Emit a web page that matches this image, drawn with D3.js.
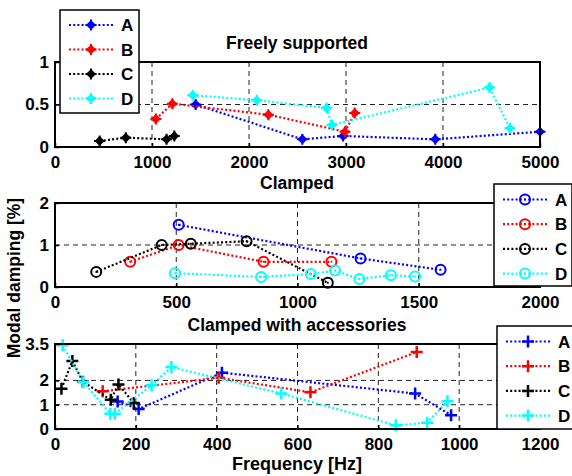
<!DOCTYPE html>
<html>
<head>
<meta charset="utf-8">
<script src="https://cdn.jsdelivr.net/npm/d3@7"></script>
<style>
  body { margin: 0; background: #fff; }
  text { font-family: "Liberation Sans", Arial, sans-serif; font-weight: bold; }
</style>
</head>
<body>
<div id="chart"></div>
<script>
// series data
var seriesNames = ["A", "B", "C", "D"];
var colors = ["#0000ff", "#ff0000", "#000000", "#00ffff"];

var freeAx = [1450, 2550, 2970, 3920, 5000],  freeAy = [0.50, 0.09, 0.13, 0.09, 0.18];
var freeBx = [1040, 1210, 2200, 2990, 3090],  freeBy = [0.33, 0.51, 0.38, 0.18, 0.40];
var freeCx = [460, 730, 1150, 1230],          freeCy = [0.07, 0.11, 0.09, 0.13];
var freeDx = [1420, 2080, 2800, 2855, 4480, 4690], freeDy = [0.61, 0.55, 0.46, 0.26, 0.70, 0.22];

var clampAx = [510, 1260, 1590],              clampAy = [1.48, 0.68, 0.41];
var clampBx = [310, 510, 860, 1140],          clampBy = [0.60, 1.00, 0.60, 0.60];
var clampCx = [170, 440, 560, 790, 1125],     clampCy = [0.36, 1.00, 1.03, 1.09, 0.10];
var clampDx = [495, 850, 1055, 1155, 1255, 1385, 1485], clampDy = [0.33, 0.24, 0.31, 0.39, 0.19, 0.28, 0.25];

var accAx = [155, 207, 413, 891, 980],        accAy = [1.13, 0.82, 2.32, 1.46, 0.57];
var accBx = [118, 405, 632, 895],             accBy = [1.55, 2.11, 1.51, 3.17];
var accCx = [16, 43, 69, 138, 157, 195],      accCy = [1.66, 2.80, 1.95, 1.20, 1.83, 1.07];
var accDx = [19, 70, 137, 148, 239, 288, 560, 843, 921, 971];
var accDy = [3.45, 1.93, 0.63, 0.63, 1.80, 2.55, 1.46, 0.15, 0.26, 1.14];

var freeXTicks = [0, 1000, 2000, 3000, 4000, 5000], freeYTicks = [0, 0.5, 1];
var clampXTicks = [0, 500, 1000, 1500, 2000],       clampYTicks = [0, 1, 2];
var accXTicks = [0, 200, 400, 600, 800, 1000, 1200], accYTicks = [0, 1, 2, 3.5];

var width = 572, height = 476, fs = 17;

var svg = d3.select("#chart").append("svg")
    .attr("width", width)
    .attr("height", height);

function zip(xs, ys) { return xs.map(function(v, i) { return [v, ys[i]]; }); }

function marker(g, type, color) {
    if (type == "diamond") {
        g.append("path").attr("d", "M0,-5L5,0L0,5L-5,0Z").attr("fill", color);
        g.append("path").attr("d", "M-5.5,0H5.5M0,-5.5V5.5").attr("stroke", color).attr("stroke-width", 2);
    } else if (type == "circle") {
        g.append("circle").attr("r", 5).attr("fill", "none").attr("stroke", color).attr("stroke-width", 2);
        g.append("circle").attr("r", 1).attr("fill", color);
    } else {
        g.append("path").attr("d", "M-6,0H6M0,-6V6").attr("stroke", color).attr("stroke-width", 2.5);
    }
}

function panel(p) {
    var x = d3.scaleLinear().domain(p.xdom).range([55, 540]);
    var y = d3.scaleLinear().domain(p.ydom).range([p.bottom, p.top]);
    var g = svg.append("g");

    // dashed grid
    g.selectAll(".gx").data(p.xticks).enter().append("line")
        .attr("x1", function(d) { return x(d); }).attr("x2", function(d) { return x(d); })
        .attr("y1", p.top).attr("y2", p.bottom)
        .attr("stroke", "#222").attr("stroke-width", 1).attr("stroke-dasharray", "5,4");
    g.selectAll(".gy").data(p.yticks).enter().append("line")
        .attr("y1", function(d) { return y(d); }).attr("y2", function(d) { return y(d); })
        .attr("x1", 55).attr("x2", 540)
        .attr("stroke", "#222").attr("stroke-width", 1).attr("stroke-dasharray", "5,4");

    // series
    var line = d3.line().x(function(d) { return x(d[0]); }).y(function(d) { return y(d[1]); });
    p.series.forEach(function(s, i) {
        g.append("path").attr("d", line(s))
            .attr("fill", "none").attr("stroke", colors[i])
            .attr("stroke-width", 2.2).attr("stroke-dasharray", "2,2.2");
        s.forEach(function(d) {
            marker(g.append("g").attr("transform", "translate(" + x(d[0]) + "," + y(d[1]) + ")"), p.marker, colors[i]);
        });
    });

    // box and axes
    g.append("rect").attr("x", 55).attr("y", p.top).attr("width", 485).attr("height", p.bottom - p.top)
        .attr("fill", "none").attr("stroke", "#000").attr("stroke-width", 2);

    g.append("g").attr("transform", "translate(0," + p.bottom + ")")
        .call(d3.axisBottom(x).tickValues(p.xticks).tickSize(-4).tickPadding(9).tickFormat(d3.format("d")))
        .call(function(a) {
            a.select(".domain").remove();
            a.selectAll("line").attr("stroke-width", 1.5);
            a.selectAll("text").attr("font-size", fs).attr("font-family", null).attr("fill", "#000");
        });
    g.append("g").attr("transform", "translate(55,0)")
        .call(d3.axisLeft(y).tickValues(p.yticks).tickSize(-4).tickPadding(6).tickFormat(function(d) { return String(d); }))
        .call(function(a) {
            a.select(".domain").remove();
            a.selectAll("line").attr("stroke-width", 1.5);
            a.selectAll("text").attr("font-size", fs).attr("font-family", null).attr("fill", "#000");
        });

    g.append("text").attr("x", 297).attr("y", p.titleY)
        .attr("text-anchor", "middle").attr("font-size", 17.5).text(p.title);

    // legend
    var L = p.legend;
    var lg = svg.append("g").attr("transform", "translate(" + L.x + "," + L.y + ")");
    lg.append("rect").attr("width", L.w).attr("height", L.h)
        .attr("fill", "#fff").attr("stroke", "#000").attr("stroke-width", 1.5);
    seriesNames.forEach(function(name, i) {
        var yy = L.first + i * L.step;
        lg.append("line").attr("x1", 9).attr("x2", 53).attr("y1", yy).attr("y2", yy)
            .attr("stroke", colors[i]).attr("stroke-width", 2.2).attr("stroke-dasharray", "2,2.2");
        marker(lg.append("g").attr("transform", "translate(31," + yy + ")"), p.marker, colors[i]);
        lg.append("text").attr("x", 61).attr("y", yy).attr("dy", "0.36em")
            .attr("font-size", fs).text(name);
    });
}

panel({
    xdom: [0, 5000], ydom: [0, 1], top: 62, bottom: 147,
    xticks: freeXTicks, yticks: freeYTicks, marker: "diamond",
    title: "Freely supported", titleY: 49,
    series: [zip(freeAx, freeAy), zip(freeBx, freeBy), zip(freeCx, freeCy), zip(freeDx, freeDy)],
    legend: {x: 60, y: 10, w: 79, h: 103, first: 15, step: 24.5}
});

panel({
    xdom: [0, 2000], ydom: [0, 2], top: 203, bottom: 287,
    xticks: clampXTicks, yticks: clampYTicks, marker: "circle",
    title: "Clamped", titleY: 189,
    series: [zip(clampAx, clampAy), zip(clampBx, clampBy), zip(clampCx, clampCy), zip(clampDx, clampDy)],
    legend: {x: 494, y: 184, w: 78, h: 102, first: 15.5, step: 24.7}
});

panel({
    xdom: [0, 1200], ydom: [0, 3.5], top: 344, bottom: 429,
    xticks: accXTicks, yticks: accYTicks, marker: "plus",
    title: "Clamped with accessories", titleY: 331,
    series: [zip(accAx, accAy), zip(accBx, accBy), zip(accCx, accCy), zip(accDx, accDy)],
    legend: {x: 497, y: 326, w: 76, h: 103, first: 15.5, step: 24.7}
});

svg.append("text").attr("x", 297).attr("y", 470)
    .attr("text-anchor", "middle").attr("font-size", 18).text("Frequency [Hz]");

svg.append("text").attr("transform", "translate(20,278) rotate(-90)")
    .attr("text-anchor", "middle").attr("font-size", 17.5).text("Modal damping [%]");
</script>
</body>
</html>
